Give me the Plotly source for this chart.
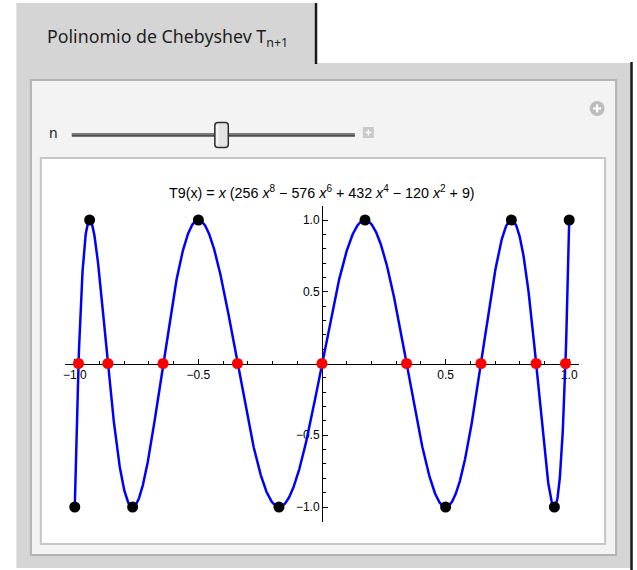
import numpy as np
import plotly.graph_objects as go

# Chebyshev T9(x) = x (256 x^8 - 576 x^6 + 432 x^4 - 120 x^2 + 9)
inner_coefs = [256, -576, 432, -120, 9]      # coefficients of x^8, x^6, x^4, x^2, x^0

# zeros of T9 (red) and extrema (black)
root_x = [-0.985, -0.866, -0.643, -0.342, 0.0, 0.342, 0.643, 0.866, 0.985]
root_y = [0, 0, 0, 0, 0, 0, 0, 0, 0]
ext_x = [-1.0, -0.940, -0.766, -0.5, -0.174, 0.174, 0.5, 0.766, 0.940, 1.0]
ext_y = [-1, 1, -1, 1, -1, 1, -1, 1, -1, 1]

x_ticks = [-1.0, -0.5, 0.5, 1.0]
x_tick_text = ["\u22121.0", "\u22120.5", "0.5", "1.0"]
y_ticks = [-1.0, -0.5, 0.5, 1.0]
y_tick_text = ["\u22121.0", "\u22120.5", "0.5", "1.0"]

W, H = 637, 570


def px(x):
    return x / W


def py(y):
    return 1 - y / H


xs = np.linspace(-1, 1, 1500)
ys = xs * np.polyval([inner_coefs[0], 0, inner_coefs[1], 0, inner_coefs[2], 0,
                      inner_coefs[3], 0, inner_coefs[4]], xs)

fig = go.Figure()
fig.add_trace(go.Scatter(x=xs, y=ys, mode="lines",
                         line=dict(color="#0000ff", width=2.5),
                         hoverinfo="skip", showlegend=False))
fig.add_trace(go.Scatter(x=root_x, y=root_y, mode="markers",
                         marker=dict(color="#ff0000", size=11),
                         cliponaxis=False, showlegend=False))
fig.add_trace(go.Scatter(x=ext_x, y=ext_y, mode="markers",
                         marker=dict(color="#000000", size=11),
                         cliponaxis=False, showlegend=False))

# axis geometry (pixels): x=0 at 321, 248 px/unit; y=0 at 363.5, 143.5 px/unit
x_range = [-1.04, 1.04]
y_range = [-1.105, 1.10]
x0_px, sx = 321.0, 248.0
y0_px, sy = 363.5, 143.5
xd = [px(x0_px + x_range[0] * sx), px(x0_px + x_range[1] * sx)]
yd = [py(y0_px - y_range[0] * sy), py(y0_px - y_range[1] * sy)]

tick_font = dict(family="Liberation Sans, Arial", size=12, color="#000000")

fig.update_layout(
    width=W, height=H,
    margin=dict(l=0, r=0, t=0, b=0),
    paper_bgcolor="#ffffff",
    plot_bgcolor="rgba(0,0,0,0)",
    xaxis=dict(range=x_range, domain=xd, anchor="free", position=py(y0_px),
               showgrid=False, zeroline=False, showline=True, linecolor="#000000",
               linewidth=1, ticks="inside", ticklen=5, tickwidth=1, tickcolor="#000000",
               tickmode="array", tickvals=x_ticks, ticktext=x_tick_text,
               tickfont=tick_font, layer="below traces",
               minor=dict(dtick=0.1, tick0=0, ticks="inside", ticklen=3,
                          tickcolor="#000000", tickwidth=1, showgrid=False)),
    yaxis=dict(range=y_range, domain=yd, anchor="free", position=px(x0_px),
               showgrid=False, zeroline=False, showline=True, linecolor="#000000",
               linewidth=1, ticks="inside", ticklen=5, tickwidth=1, tickcolor="#000000",
               tickmode="array", tickvals=y_ticks, ticktext=y_tick_text,
               tickfont=tick_font, layer="below traces",
               minor=dict(dtick=0.1, tick0=0, ticks="inside", ticklen=3,
                          tickcolor="#000000", tickwidth=1, showgrid=False)),
)

shapes = []


def rect(x0, y0, x1, y1, fill, line_color=None, lw=0):
    shapes.append(dict(type="rect", xref="paper", yref="paper",
                       x0=px(x0), x1=px(x1), y0=py(y1), y1=py(y0),
                       fillcolor=fill, layer="below",
                       line=dict(color=line_color or fill, width=lw)))


def seg(x0, y0, x1, y1, color, width, layer="above"):
    shapes.append(dict(type="line", xref="paper", yref="paper",
                       x0=px(x0), x1=px(x1), y0=py(y0), y1=py(y1),
                       line=dict(color=color, width=width), layer=layer))


# tab and outer panel
rect(15, 3, 315, 64, "#d5d5d5")
rect(15, 63, 631, 568, "#d5d5d5")
seg(14.5, 3, 14.5, 568, "#e6e6e6", 1, "below")
# inner light panel
rect(29, 80, 616, 555, "#f3f3f3", "#b2b2b2", 2)
# white plot frame
rect(39, 158, 605, 544, "#ffffff", "#c6c6c6", 2)

# dark edges
seg(315, 3, 315, 64, "#1a1a1a", 2.5, "below")
seg(631.5, 62, 631.5, 570, "#1a1a1a", 2.5, "below")

# slider track and thumb
seg(70, 135, 354, 135, "#4d4d4d", 3.5)
seg(70, 134.3, 354, 134.3, "#8a8a8a", 1)


def rounded_path(x0, y0, x1, y1, r):
    pts = [
        (x0 + r, y0), (x1 - r, y0), ("Q", x1, y0, x1, y0 + r), (x1, y1 - r),
        ("Q", x1, y1, x1 - r, y1), (x0 + r, y1), ("Q", x0, y1, x0, y1 - r),
        (x0, y0 + r), ("Q", x0, y0, x0 + r, y0),
    ]
    out = []
    for i, p in enumerate(pts):
        if p[0] == "Q":
            out.append("Q {},{} {},{}".format(px(p[1]), py(p[2]), px(p[3]), py(p[4])))
        else:
            out.append(("M" if i == 0 else "L") + " {},{}".format(px(p[0]), py(p[1])))
    return " ".join(out) + " Z"


shapes.append(dict(type="path", xref="paper", yref="paper",
                   path=rounded_path(213.5, 122.5, 227, 147.5, 3),
                   fillcolor="#e4e4e4", line=dict(color="#2e2e2e", width=1.5),
                   layer="above"))
seg(216, 125, 216, 145, "#f8f8f8", 2)

# small "+" box next to slider
rect(362, 127, 373, 138, "#c9c9c9")
seg(364.5, 132.5, 370.5, 132.5, "#ffffff", 1.5)
seg(367.5, 129.5, 367.5, 135.5, "#ffffff", 1.5)
# round "+" button in the corner
shapes.append(dict(type="circle", xref="paper", yref="paper",
                   x0=px(589.5), x1=px(604.5), y0=py(116), y1=py(101),
                   fillcolor="#bcbcbc", line=dict(color="#bcbcbc", width=0),
                   layer="above"))
seg(593, 108.5, 601, 108.5, "#ffffff", 2.2)
seg(597, 104.5, 597, 112.5, "#ffffff", 2.2)

fig.update_layout(shapes=shapes)

annotations = [
    dict(text="Polinomio de Chebyshev T<sub>n+1</sub>", x=px(166), y=py(38),
         font=dict(family="Noto Sans, Open Sans", size=17.8, color="#1e1e1e")),
    dict(text="n", x=px(52), y=py(132),
         font=dict(family="Noto Sans, Open Sans", size=14, color="#222222")),
    dict(text="T9(x) = <i>x</i> (256 <i>x</i><sup>8</sup> \u2212 576 <i>x</i><sup>6</sup>"
              " + 432 <i>x</i><sup>4</sup> \u2212 120 <i>x</i><sup>2</sup> + 9)",
         x=px(321), y=py(192),
         font=dict(family="Liberation Sans, Arial", size=14.3, color="#000000")),
]
for a in annotations:
    a.update(xref="paper", yref="paper", showarrow=False,
             xanchor="center", yanchor="middle")
fig.update_layout(annotations=annotations)

fig.write_html("out.html")
